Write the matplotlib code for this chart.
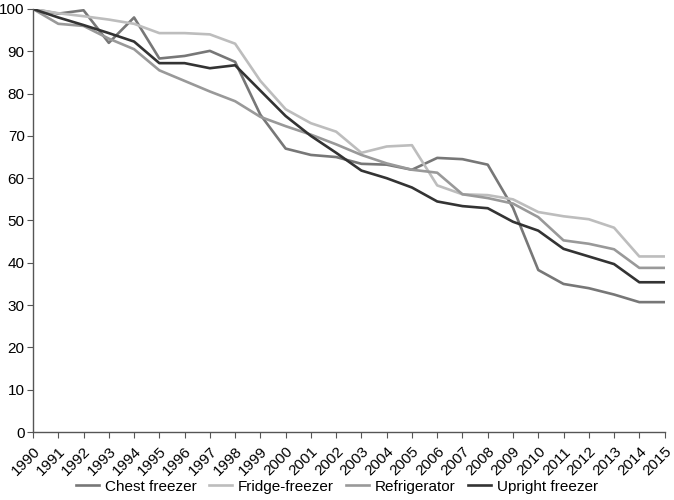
import matplotlib
matplotlib.use('Agg')
import matplotlib.pyplot as plt

years = list(range(1990, 2016))

chest_freezer = [100, 98.9, 99.7, 92.0, 98.0, 88.3, 88.9, 90.1, 87.5, 75.0, 67.0, 65.5, 65.0,
                 63.4, 63.2, 62.0, 64.8, 64.5, 63.2, 53.0, 38.3, 35.0, 34.0, 32.5, 30.7, 30.7]
fridge_freezer = [100, 99.0, 98.3, 97.5, 96.5, 94.3, 94.3, 94.0, 91.8, 83.0, 76.3, 73.0, 71.0,
                  66.0, 67.5, 67.8, 58.3, 56.2, 56.0, 55.0, 52.0, 51.0, 50.3, 48.3, 41.5, 41.5]
refrigerator = [100, 96.5, 96.0, 93.0, 90.5, 85.5, 83.0, 80.5, 78.2, 74.5, 72.3, 70.3, 68.0,
                65.5, 63.5, 62.0, 61.3, 56.2, 55.3, 54.0, 50.8, 45.3, 44.5, 43.2, 38.8, 38.8]
upright_freezer = [100, 98.0, 96.2, 94.3, 92.3, 87.2, 87.2, 86.0, 86.7, 80.7, 74.7, 70.0, 66.0,
                   61.8, 60.0, 57.8, 54.5, 53.4, 52.9, 49.7, 47.6, 43.3, 41.5, 39.7, 35.4, 35.4]

series = [
    ('Chest freezer', chest_freezer, '#777777'),
    ('Fridge-freezer', fridge_freezer, '#bdbdbd'),
    ('Refrigerator', refrigerator, '#999999'),
    ('Upright freezer', upright_freezer, '#333333'),
]

plt.rcParams['font.family'] = ['Liberation Sans', 'DejaVu Sans']

fig = plt.figure(figsize=(6.74, 5.0), dpi=100, facecolor='white')
ax = fig.add_axes([0.049, 0.136, 0.937, 0.846])

for name, values, color in series:
    ax.plot(years, values, color=color, linewidth=1.9, label=name)

# axes and ticks
ax.set_xlim(1990, 2015)
ax.set_ylim(0, 100)
ax.set_yticks(range(0, 101, 10))
ax.set_xticks(years)
ax.set_xticklabels([str(y) for y in years], rotation=45, ha='right', rotation_mode='anchor')
ax.tick_params(axis='both', labelsize=11, color='#555555', direction='out', length=4)
ax.tick_params(axis='x', pad=5)
ax.tick_params(axis='y', pad=2)

for side in ['top', 'right']:
    ax.spines[side].set_visible(False)
for side in ['left', 'bottom']:
    ax.spines[side].set_color('#555555')
    ax.spines[side].set_linewidth(1)

fig.legend(loc='lower center', ncol=4, frameon=False, fontsize=11,
           bbox_to_anchor=(0.5, -0.015), handlelength=1.5, columnspacing=0.8, handletextpad=0.4)

fig.savefig('out.png', dpi=100, facecolor='white')
